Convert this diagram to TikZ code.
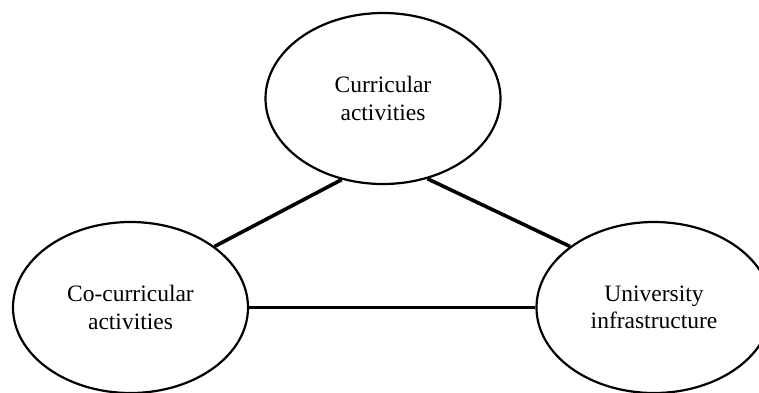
\documentclass[tikz,border=0pt]{standalone}
\usepackage{fontspec}
\setmainfont{Liberation Serif}
\usetikzlibrary{shapes.geometric}
\begin{document}
\begin{tikzpicture}[x=1pt,y=-1pt,
  bubble/.style={ellipse, draw, line width=2.2pt, minimum width=235pt, minimum height=171pt,
    inner sep=0pt, align=center, font=\fontsize{23.5}{27.5}\selectfont},
  link/.style={line width=3.6pt}]
\useasboundingbox (0,0) rectangle (759,392);
\node[bubble] (cur) at (383,98.5) {Curricular\\activities};
\node[bubble] (co) at (130.5,307.5) {Co-curricular\\activities};
\node[bubble] (uni) at (654,307.5) {University\\infrastructure};
\draw[link] (co.36) -- (cur.243);
\draw[link] (cur.299.5) -- (uni.144.5);
\draw[link] (co.east) -- (uni.west);
\end{tikzpicture}
\end{document}
